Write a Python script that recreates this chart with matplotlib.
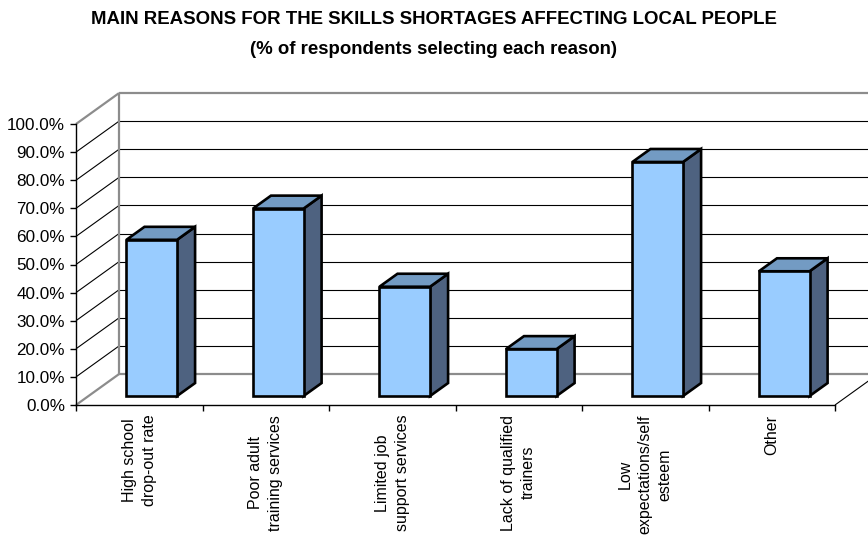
import matplotlib
matplotlib.use("Agg")
import matplotlib.pyplot as plt
from matplotlib import font_manager
from matplotlib.patches import Polygon

# ---- data -------------------------------------------------------------
categories = [
    "High school\ndrop-out rate",
    "Poor adult\ntraining services",
    "Limited job\nsupport services",
    "Lack of qualified\ntrainers",
    "Low\nexpectations/self\nesteem",
    "Other",
]
values = [55.6, 66.7, 38.9, 16.7, 83.3, 44.4]
y_ticks = [0, 10, 20, 30, 40, 50, 60, 70, 80, 90, 100]
title_lines = [
    "MAIN REASONS FOR THE SKILLS SHORTAGES AFFECTING LOCAL PEOPLE",
    "(% of respondents selecting each reason)",
]


def has_font(name):
    try:
        font_manager.findfont(font_manager.FontProperties(family=name),
                              fallback_to_default=False)
        return True
    except ValueError:
        return False


BODY_FONT = "Liberation Sans"
if has_font("Liberation Sans Narrow"):
    TITLE_FONT, TITLE_SIZE = "Liberation Sans Narrow", 14.5
else:
    TITLE_FONT, TITLE_SIZE = "Liberation Sans", 13.4

# ---- figure / front plane of the 3-D box ------------------------------
W, H = 868, 538
fig = plt.figure(figsize=(W / 100, H / 100), dpi=100)
fig.patch.set_facecolor("white")
ax = fig.add_axes([76 / W, (H - 405) / H, 759 / W, 281 / H])
ax.set_xlim(0, len(categories))
ax.set_ylim(0, 100)
ax.patch.set_visible(False)

# oblique depth offset (in data units) of the back wall
DX, DY = 0.34, 11.0
BAR_D0, BAR_D1 = 0.29, 0.71
HALF = 0.2

FRONT = "#99CCFF"
TOP = "#739BC3"
SIDE = "#4E6280"
FRAME = "#8C8C8C"


def proj(x, v, d):
    return (x + d * DX, v + d * DY)


def seg(p, q, **kw):
    ax.plot([p[0], q[0]], [p[1], q[1]], clip_on=False, solid_capstyle="butt", **kw)


n = len(categories)
# back wall and left side wall gridlines
for v in y_ticks:
    edge = v in (0, 100)
    style = dict(color=FRAME, lw=1.6, zorder=1) if edge else dict(color="black", lw=0.8, zorder=1)
    seg(proj(0, v, 1), proj(n, v, 1), **style)
    seg(proj(0, v, 0), proj(0, v, 1), **style)
seg(proj(0, 0, 1), proj(0, 100, 1), color=FRAME, lw=1.6, zorder=1)
seg(proj(n, 0, 0), proj(n, 0, 1), color="black", lw=0.8, zorder=1)

# bars as oblique prisms
for i, v in enumerate(values):
    c = i + 0.5
    x0, x1 = c - HALF, c + HALF
    front = [proj(x0, 0, BAR_D0), proj(x1, 0, BAR_D0), proj(x1, v, BAR_D0), proj(x0, v, BAR_D0)]
    side = [proj(x1, 0, BAR_D0), proj(x1, 0, BAR_D1), proj(x1, v, BAR_D1), proj(x1, v, BAR_D0)]
    top = [proj(x0, v, BAR_D0), proj(x1, v, BAR_D0), proj(x1, v, BAR_D1), proj(x0, v, BAR_D1)]
    for pts, col in ((side, SIDE), (top, TOP), (front, FRONT)):
        ax.add_patch(Polygon(pts, closed=True, facecolor=col, edgecolor="black",
                             lw=1.9, joinstyle="miter", clip_on=False, zorder=3))

# ---- front axes -------------------------------------------------------
for s in ("top", "right"):
    ax.spines[s].set_visible(False)
for s in ("left", "bottom"):
    ax.spines[s].set_color("black")
    ax.spines[s].set_linewidth(1.0)
    ax.spines[s].set_zorder(4)

ax.set_yticks(y_ticks)
ax.set_yticklabels([f"{t:.1f}%" for t in y_ticks], fontfamily=BODY_FONT, fontsize=12.3)
ax.tick_params(axis="y", direction="out", length=4, width=1, pad=4, colors="black")

ax.set_xticks(range(n + 1))
ax.set_xticklabels([])
ax.tick_params(axis="x", which="major", direction="out", length=4, width=1)
ax.set_xticks([i + 0.5 for i in range(n)], minor=True)
ax.set_xticklabels(categories, minor=True, rotation=90, ha="center", va="top",
                   multialignment="center", fontfamily=BODY_FONT, fontsize=11.5,
                   linespacing=1.4)
ax.tick_params(axis="x", which="minor", length=0, pad=7)

# ---- title ------------------------------------------------------------
fig.text(0.5, 1 - 20 / H, title_lines[0], ha="center", va="center",
         fontfamily=TITLE_FONT, fontweight="bold", fontsize=TITLE_SIZE)
fig.text(0.5, 1 - 50 / H, title_lines[1], ha="center", va="center",
         fontfamily=TITLE_FONT, fontweight="bold", fontsize=TITLE_SIZE)

fig.savefig("out.png", dpi=100)
